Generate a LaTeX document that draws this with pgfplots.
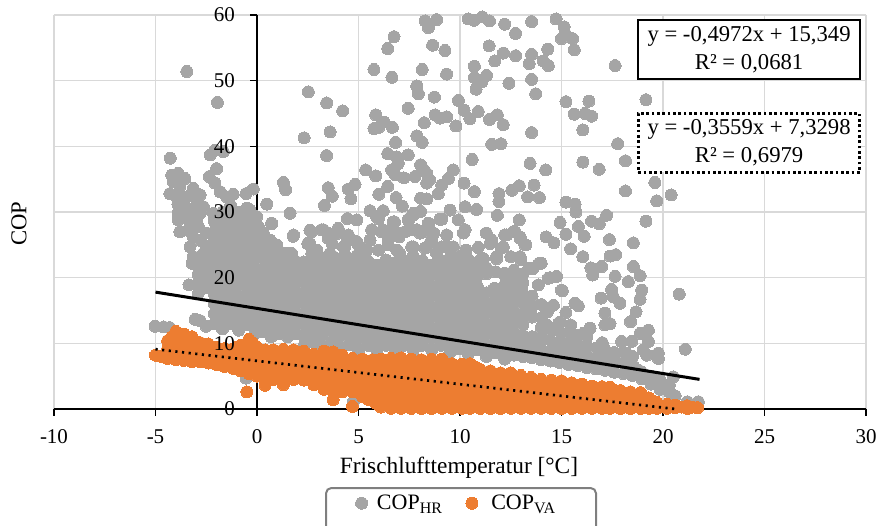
\documentclass[border=0pt]{standalone}
\usepackage{fontspec}
\setmainfont{Liberation Serif}
\usepackage{pgfplots}
\pgfplotsset{compat=1.18}
\definecolor{cgray}{HTML}{A5A5A5}
\definecolor{corange}{HTML}{ED7D31}
\definecolor{cgrid}{HTML}{D9D9D9}
\definecolor{cleg}{HTML}{7F7F7F}
\newcommand{\legsub}[1]{\raisebox{-3pt}{\fontsize{12}{12}\selectfont #1}}
\begin{document}
\begin{tikzpicture}
\useasboundingbox (-40.5pt,-87pt) rectangle (617.25pt,306.75pt);
\begin{axis}[
 scale only axis, width=609pt, height=295.5pt,
 xmin=-10, xmax=30, ymin=0, ymax=60,
 axis lines=middle, axis line style={-, black, line width=1.5pt},
 hide obscured x ticks=false, hide obscured y ticks=false,
 xtick={-10,-5,...,30}, ytick={0,10,...,60},
 xticklabel={\empty}, yticklabel={\empty},
 tick align=outside, major tick length=5pt,
 tick style={black, line width=1.1pt},
 grid=major, major grid style={cgrid, line width=1.2pt},
 clip=false,
 xlabel={Frischlufttemperatur [°C]},
 ylabel={COP},
 every axis x label/.style={at={(axis cs:9.95,-9)},anchor=center,font=\fontsize{17.5}{20}\selectfont},
 every axis y label/.style={at={(axis cs:-11.72,28.2)},anchor=center,rotate=90,font=\fontsize{17}{20}\selectfont},
 legend columns=2,
 legend style={at={(axis cs:3.4,-12.03)},anchor=north west,draw=none,fill=none,
  font=\fontsize{16.5}{19}\selectfont,inner xsep=22pt,inner ysep=3pt,
  /tikz/every even column/.append style={column sep=16pt},
  /tikz/every odd column/.append style={column sep=5pt}},
]
\draw[cleg,line width=1.5pt,rounded corners=4pt] (axis cs:3.4,-12.03) rectangle (axis cs:16.7,-19);
\addplot[only marks,color=cgray,mark=*,mark size=4.5pt,mark options={solid,draw=cgray,fill=cgray,line width=0pt}] coordinates {
(-3.46,51.4)(-1.95,46.7)(2.53,48.3)(3.43,46.6)(4.22,45.4)(2.32,41.3)(3.6,42.2)(3.43,38.6)(-4.27,38.2)(-2.3,38.7)(-2.07,39.4)(-1.66,39.2)(-1.99,36.6)(-2.35,35.4)
(1.3,34.5)(1.41,33.4)(0.48,31.2)(1.63,29.8)(-0.18,33.5)(-0.54,32.8)(-1.17,32.7)(1.79,26.3)(0.72,28.2)(3.51,33.7)(3.71,32.4)(3.32,31)(4.83,34.2)(4.5,33.5)(4.63,32)(4.45,29)(4.91,28.8)(4,27.4)(2.61,27.2)(3.27,27.3)
(6.75,56.7)(6.44,54.9)(5.76,51.7)(6.65,50.5)(8.14,51.7)(8.28,59.1)(8.44,58.1)(8.85,59.3)(8.65,55.4)(7.87,49.2)(7.95,48)(8.74,47.5)(7.45,45.8)(8.77,44.8)(8.24,43.6)(5.85,44.8)(6.26,43.7)(6.67,42.9)(5.76,42.7)(6,42.9)(7.87,41.6)(8.14,40.6)(6.83,40.6)(6.44,38.9)(6.88,38.4)(7.45,38.7)(5.35,36.4)(5.85,35.5)(6.63,36.4)(6.96,37.4)(8.06,37.2)(8.36,35.9)(7.78,35.4)(7.24,35.2)(6.44,33.9)(6,32.7)(6.85,32.2)(7.16,30.9)(8.06,32.1)(8.36,32)(8.36,34.4)(8.93,32.8)(6.8,35.7)(8.2,36.5)(8.5,34.9)
(5.57,30.2)(5.89,29.3)(6.22,30.2)(6.77,28.5)(7.45,28.8)(7.7,29.8)(8.06,30.1)(9.01,28.9)(8.44,27.8)(7.87,27.3)
(10.41,59.4)(10.7,59.2)(11.1,59.7)(11.45,59.1)(12.2,58.6)(12.74,57.2)(13.53,59)(14.73,59.4)(15.13,58.2)(15.17,57.2)(15.55,56.4)(15,56.4)(15.63,54.7)(17.64,52.3)(11.43,55.3)(9.26,54.6)(12.14,54.2)(11.72,53)(12.74,53.8)(13.53,54)(14.32,54.8)(13.41,52.6)(14.1,53)(14.35,52.3)(10.71,52.2)(9.34,51)(11.31,50.8)(10.71,50.5)(11.07,49.8)(12.41,49.6)(13.53,50.2)(10.79,48.7)(13.73,48)(9.92,47)(15.22,46.8)(16.35,46.9)(19.16,47.1)(10.2,45.5)(10.9,45.3)(10.49,44.2)(11.84,44.8)(11.45,44.1)(12.13,43.3)(15.63,44.9)(16.16,45)(16.48,44.6)(9.34,44.5)(9.01,44.3)(9.8,43.1)(13.53,42.1)(16.05,42.5)(11.56,40.3)(12.02,40.4)(17.77,40.4)(10.6,38)(13.45,37.4)(14.22,36.4)(16.05,37.6)(16.86,36.5)(18.15,37.8)(9.67,36.4)(9.43,35.1)(9.1,34.1)(10.2,34.4)(10.71,33.1)(12.55,33.3)(12.92,34)(13.65,34.1)(13.33,32.3)(13.91,32.2)(11.92,32.8)(11.92,31.6)(18.15,33.2)(19.6,34.5)(20.4,32.6)(19.69,31.7)(15.22,31.5)(15.67,31.2)(15.71,30)(10.82,30.4)(10.25,30.8)(9.51,30.3)(9.92,28.8)(9.1,28.9)(11.84,29.5)(12.92,28.8)(14.93,28.4)(17.22,29.5)(16.48,28.6)(16.86,28.2)(15.83,27.8)(19.16,28.6)(15.22,26.6)(16.12,26.3)(14.24,26.2)(14.63,25.3)(17.36,25.8)(18.54,25.3)(15.45,24.4)(16.05,23.2)(17.39,23.3)(17.67,23.5)(13.91,22.2)(18.54,21.7)(16.45,21.5)(16.98,21.7)(10.25,27.3)(10.17,26.8)(9.34,26.5)(11.56,25.7)(12.3,26.5)(12.71,27)(12.96,26)(13.25,25)(12.96,23.2)(11.15,22.9)(12.13,24.7)(10.3,24.2)(9.67,24.7)(11.8,23.2)
(20.8,17.5)(21.1,9.1)(15.04,18)(15.66,16.1)(15.83,15.7)(15.22,14.7)(14.6,15.8)(14.02,15.9)(14.76,20.2)(14.35,19.9)(13.86,18.9)(16.54,20.4)(17.64,20.2)(18.29,19.4)(18.87,20.3)(18.95,18.1)(18.87,16.7)(17.47,18.2)(16.95,16.9)(17.88,16.1)(17.55,17.1)(17.14,14.6)(17.14,12.8)(17.39,13)(18.67,14.8)(18.4,13.3)(18.87,11.5)(19.28,12)(19.28,10.3)(19.03,11.5)(17.01,10.1)(17.96,10.3)(18.46,10.3)(19.03,9)(19.2,8.2)(19.77,7.7)(19.77,8.5)(18.2,8.5)(20.51,4.9)(20.31,3.7)(20.6,2)(21.2,1.1)(21.74,1.1)(18.8,5.9)(15.45,12.8)(16.41,12.3)(16.07,11.5)(14.27,12.8)(15.75,11)
(-5.02,12.6)(-4.6,12.5)(-4.3,12.4)(-3.35,18.9)(-2.9,17.6)(-3.05,13.65)(-2.8,13.45)(-2.5,12.6)(-0.54,4.7)(4.75,1.1)
(-4.2,35.6)(-3.88,35.9)(-3.55,35.1)(-4.12,34.6)(-3.8,33.9)(-3.14,33.6)(-2.8,32.6)(-4.29,32.8)(-3.96,32.3)(-3.46,32.3)(-2.97,31.8)(-3.88,29.8)(-3.88,28.8)(-3.2,30.3)(-2.8,29.8)(-2.64,30.8)(-3.8,27)(-2.97,28.8)(-2.89,27.8)(-3.14,26.2)(-3.3,24.7)(-3.14,23.2)(-3.2,22.2)(-2.8,25.7)(-2.48,26.8)(-2.64,23.7)(-2.07,34.4)(-1.82,33.1)(-1.49,32.3)(-1.99,27.8)(-2.15,29.8)(-1.49,29.8)(-0.84,30)(-0.34,30.3)(-0.02,29.3)(-0.5,28.3)(-1.17,27.8)(0.07,27.8)(0.31,26.8)(0.64,25.7)(0.97,25)(1.46,23.7)(1.63,22.4)(1.2,23)(-3.9,31.2)(-3.5,30.7)(-3.6,29.2)(-3.3,28.4)(-3.4,27.2)
(2.61,25.2)(2.94,24.2)(3.51,26)(3.92,26.7)(3.76,23.2)(4.42,26.2)(4.25,24.7)(4.99,25)(4.42,23.2)(5.65,27.3)(6.14,27)(6.55,26.8)(5.57,25.7)(5.98,24.2)(6.47,25)(7,26.2)(7.29,27)(8.03,26.8)(8.6,25.7)(7.62,24.7)(8.28,24.5)(7.04,23.7)(8.85,23.7)(5.24,23.2)(9.3,24.8)(10.9,24.6)(12.5,23.2)(11.3,26.8)(13.6,21.4)
(2.69,27)(3.18,27.3)(3.5,26.8)(4,27.5)(4.5,26.5)(2.5,25.2)(3.7,25.2)(4.33,24.7)(4.9,25.5)(2.7,23.7)(3.1,23.2)(3.6,23.7)(4.25,23.2)(1.7,23.7)(1.3,23.5)(2.3,21.2)(1.8,26.5)(0.72,28.3)(5.4,24.2)(5.98,29)(6.7,28.5)(7.5,29)(7.7,29.5)(8.44,28.3)(9.05,28.9)(6.2,27.3)(6.47,25.7)(7.04,26.8)(7.7,27.3)(8.2,27)(8.7,26.8)(6.88,24.2)(7.7,24.7)(8.52,25.2)(9.1,24.7)(10,23.2)(6.88,22.4)
(11.48,25.2)(12.2,26.5)(12.63,27)(12.96,26.2)(13.2,25)(12.05,24.5)(13,22.7)(13.4,21.4)(12.2,20.7)(11,22.7)(11.8,22.9)(13,19.6)(13.04,18.1)(11.7,18.4)(12.1,17.6)(14,22.2)(14.43,20)(15,18.1)(13.4,16.1)(14.3,14.8)(13.45,14.8)
(-2.9,19)(-2.9,20.5)(-2.9,22)(-2.5,18.5)(-2.5,20.2)(-2.5,21.8)(-2.5,23.3)(-2.5,24.8)
(-2.1,13)(-2.1,14.5)(-2.1,16)(-2.1,17.5)(-2.1,19.2)(-2.1,20.8)(-2.1,22.4)(-2.1,24)(-2.1,25.5)(-2.1,27)(-2.1,28.6)
(-1.7,12.2)(-1.7,13.8)(-1.7,15.4)(-1.7,17)(-1.7,18.6)(-1.7,20.2)(-1.7,21.8)(-1.7,23.4)(-1.7,25)(-1.7,26.6)(-1.7,28.2)(-1.7,30)
(-1.3,13)(-1.3,14.6)(-1.3,16.2)(-1.3,18)(-1.3,19.6)(-1.3,21.2)(-1.3,22.8)(-1.3,24.4)(-1.3,26)(-1.3,27.6)(-1.3,29.2)(-1.3,31)
(-0.9,12)(-0.9,13.6)(-0.9,15.2)(-0.9,17)(-0.9,18.8)(-0.9,20.4)(-0.9,22)(-0.9,23.6)(-0.9,25.2)(-0.9,26.8)(-0.9,28.4)(-0.9,30)
(-0.5,12.8)(-0.5,14.4)(-0.5,16)(-0.5,17.6)(-0.5,19.2)(-0.5,20.8)(-0.5,22.4)(-0.5,24)(-0.5,25.6)(-0.5,27.2)(-0.5,28.8)(-0.5,30.6)
(-0.1,11.5)(-0.1,13.1)(-0.1,14.7)(-0.1,16.3)(-0.1,17.9)(-0.1,19.5)(-0.1,21.1)(-0.1,22.7)(-0.1,24.3)(-0.1,25.9)(-0.1,27.5)(-0.1,29)
(0.3,11.8)(0.3,13.4)(0.3,15)(0.3,16.6)(0.3,18.2)(0.3,19.8)(0.3,21.4)(0.3,23)(0.3,24.6)(0.3,26)
(0.7,11)(0.7,12.6)(0.7,14.2)(0.7,15.8)(0.7,17.4)(0.7,19)(0.7,20.6)(0.7,22.2)(0.7,23.8)(0.7,25.2)
(1.1,11.5)(1.1,13.1)(1.1,14.7)(1.1,16.3)(1.1,17.9)(1.1,19.5)(1.1,21.1)(1.1,22.7)(1.1,24)
(1.5,11)(1.5,12.6)(1.5,14.2)(1.5,15.8)(1.5,17.4)(1.5,19)(1.5,20.6)(1.5,22.2)
(1.9,11.5)(1.9,13.1)(1.9,14.7)(1.9,16.3)(1.9,17.9)(1.9,19.5)(1.9,21)(1.9,22.5)
(2.3,9.6)(2.3,11.2)(2.3,12.8)(2.3,14.4)(2.3,16)(2.3,17.6)(2.3,19.2)(2.3,20.8)(2.3,22.4)
(2.75,10.2)(2.75,11.9)(2.75,13.5)(2.75,15.1)(2.75,16.7)(2.75,18.3)(2.75,19.9)(2.75,21.5)(2.75,23)
(3.2,9.5)(3.2,11.1)(3.2,12.7)(3.2,14.3)(3.2,15.9)(3.2,17.5)(3.2,19.1)(3.2,20.7)(3.2,22.3)
(3.65,10)(3.65,11.8)(3.65,13.4)(3.65,15)(3.65,16.6)(3.65,18.2)(3.65,19.8)(3.65,21.4)(3.65,23.1)
(4.1,9.3)(4.1,11)(4.1,12.6)(4.1,14.2)(4.1,15.8)(4.1,17.4)(4.1,19)(4.1,20.6)(4.1,22.2)
(4.55,9.8)(4.55,11.6)(4.55,13.2)(4.55,14.8)(4.55,16.4)(4.55,18)(4.55,19.6)(4.55,21.2)(4.55,22.9)
(5,9)(5,10.7)(5,12.3)(5,13.9)(5,15.5)(5,17.1)(5,18.7)(5,20.3)(5,21.9)(5,23.6)
(5.45,9.7)(5.45,11.4)(5.45,13)(5.45,14.6)(5.45,16.2)(5.45,17.8)(5.45,19.4)(5.45,21)(5.45,22.6)
(5.9,9)(5.9,10.7)(5.9,12.3)(5.9,13.9)(5.9,15.5)(5.9,17.1)(5.9,18.7)(5.9,20.3)(5.9,21.9)
(6.35,9.7)(6.35,11.4)(6.35,13)(6.35,14.6)(6.35,16.2)(6.35,17.8)(6.35,19.4)(6.35,21)(6.35,22.7)
(6.8,9)(6.8,10.7)(6.8,12.3)(6.8,13.9)(6.8,15.5)(6.8,17.1)(6.8,18.7)(6.8,20.3)(6.8,21.9)
(7.25,9.7)(7.25,11.4)(7.25,13)(7.25,14.6)(7.25,16.2)(7.25,17.8)(7.25,19.4)(7.25,21)(7.25,22.6)
(7.7,9)(7.7,10.7)(7.7,12.3)(7.7,13.9)(7.7,15.5)(7.7,17.1)(7.7,18.7)(7.7,20.3)(7.7,21.9)(7.7,23.3)
(8.15,9.7)(8.15,11.4)(8.15,13)(8.15,14.6)(8.15,16.2)(8.15,17.8)(8.15,19.4)(8.15,21)(8.15,22.6)
(8.6,9)(8.6,10.7)(8.6,12.3)(8.6,13.9)(8.6,15.5)(8.6,17.1)(8.6,18.7)(8.6,20.3)(8.6,21.9)
(9.05,9.7)(9.05,11.4)(9.05,13)(9.05,14.6)(9.05,16.2)(9.05,17.8)(9.05,19.4)(9.05,21)(9.05,22.5)
(9.5,8.6)(9.5,10.3)(9.5,11.9)(9.5,13.5)(9.5,15.1)(9.5,16.7)(9.5,18.3)(9.5,19.9)(9.5,21.5)(9.5,23)
(9.95,9.2)(9.95,10.9)(9.95,12.5)(9.95,14.1)(9.95,15.7)(9.95,17.3)(9.95,18.9)(9.95,20.5)(9.95,22.1)
(10.4,8.4)(10.4,10.1)(10.4,11.7)(10.4,13.3)(10.4,14.9)(10.4,16.5)(10.4,18.1)(10.4,19.7)(10.4,21.3)(10.4,22.8)
(10.85,9)(10.85,10.7)(10.85,12.3)(10.85,13.9)(10.85,15.5)(10.85,17.1)(10.85,18.7)(10.85,20.3)(10.85,21.8)
(11.3,8)(11.3,9.7)(11.3,11.3)(11.3,12.9)(11.3,14.5)(11.3,16.1)(11.3,17.7)(11.3,20.6)(11.3,21.5)
(11.75,8.6)(11.75,10.3)(11.75,11.9)(11.75,13.5)(11.75,15.1)(11.75,16.7)(11.75,20.9)
(12.2,7.6)(12.2,9.3)(12.2,10.9)(12.2,12.5)(12.2,14.1)(12.2,15.7)(12.2,17.3)(12.2,18.9)(12.2,20.5)
(12.65,8.2)(12.65,9.9)(12.65,11.5)(12.65,13.1)(12.65,14.7)(12.65,16.3)(12.65,17.9)(12.65,19.5)(12.65,21.1)
(13.1,8)(13.1,9.6)(13.1,11.2)(13.1,12.8)(13.1,14.4)(13.1,16)(13.1,17.6)(13.1,19.2)(13.1,20.6)
(13.55,7.8)(13.55,9.4)(13.55,11)(13.55,14)(13.55,15.6)(13.55,17.2)
(14,7.5)(14,9.1)(14,10.7)(14,12.3)(14,13.9)
(14.45,7.3)(14.45,8.9)(14.45,10.5)(14.45,12.1)
(14.9,7.1)(14.9,8.7)(14.9,10.3)(14.9,11.9)(14.9,13.2)
(15.35,6.8)(15.35,8.4)(15.35,10)(15.35,11.6)
(15.8,6.6)(15.8,8.2)(15.8,9.8)(15.8,11.2)
(16.25,6.3)(16.25,7.9)(16.25,9.5)(16.25,11)
(16.7,6.1)(16.7,7.7)(16.7,9.3)
(17.15,5.9)(17.15,7.5)(17.15,9)
(17.6,5.6)(17.6,7.2)(17.6,8.6)
(18.05,5.4)(18.05,7)(18.05,8.6)
(18.5,5.1)(18.5,6.7)(18.5,8)
(18.95,4.6)(18.95,5.6)
(19.4,3.8)(19.4,5)
(19.85,3)(19.85,4.4)(20.3,2.6)
};
\addlegendentry{COP\legsub{HR}}
\addplot[only marks,color=corange,mark=*,mark size=4.5pt,mark options={solid,draw=corange,fill=corange,line width=0pt}] coordinates {
(-5,8.2)(-4.7,8)(-4.4,7.7)(-4.4,9.2)(-4.4,10.4)(-4,7.5)(-4,9)(-4,10.4)(-4,11.8)(-3.6,7.4)(-3.6,8.9)(-3.6,10.3)(-3.6,11.4)(-3.2,7.2)(-3.2,8.8)(-3.2,10.1)(-3.2,11)
(-2.8,7.2)(-2.8,8.6)(-2.8,10.1)(-2.4,7)(-2.4,8.5)(-2.4,9.9)(-2,6.8)(-2,8.1)(-2,9.4)(-1.6,6.5)(-1.6,7.9)(-1.6,9.2)(-1.2,6.2)(-1.2,7.6)(-1.2,9.1)(-0.8,5.8)(-0.8,7.2)(-0.8,8.7)(-0.8,9.7)
(-0.4,5.4)(-0.4,6.9)(-0.4,8.4)(-0.4,10.6)(-0.5,2.6)(0,5)(0,6.5)(0,8)(0,9.4)(0.4,3.6)(0.4,4.5)(0.4,6)(0.4,7.5)(0.4,9)(0.8,4.5)(0.8,5.9)(0.8,7.4)(0.8,9)(1.3,3.7)(1.3,4.5)(1.3,6)(1.3,7.5)(1.3,9.1)(1.8,4.5)(1.8,6)(1.8,7.5)(1.8,9)
(2.3,4.4)(2.3,5.9)(2.3,7.4)(2.3,8.8)(2.8,3.7)(2.8,5.2)(2.8,6.7)(2.8,8.3)(3.3,3)(3.3,4.5)(3.3,6)(3.3,7.5)(3.3,8.8)(3.75,1.4)(3.75,2.6)(3.75,4.1)(3.75,5.6)(3.75,7.1)(3.75,8.7)
(4.2,2.6)(4.2,4)(4.2,5.5)(4.2,7)(4.2,8.2)(4.7,0.4)(4.7,2.6)(4.7,4.1)(4.7,5.6)(4.7,7)(4.7,7.7)(5.2,1.9)(5.2,3.3)(5.2,4.8)(5.2,6.3)(5.2,7.6)(5.7,1.3)(5.7,2.8)(5.7,4.3)(5.7,5.8)(5.7,7.5)
(6.1,0.3)(6.1,1.8)(6.1,3.3)(6.1,4.8)(6.1,6.3)(6.1,7.6)(6.6,0.1)(6.6,1.6)(6.6,3.1)(6.6,4.6)(6.6,6.1)(6.6,7.7)(7.1,0.1)(7.1,1.6)(7.1,3.1)(7.1,4.6)(7.1,6.1)(7.1,7.8)
(7.6,0.1)(7.6,1.6)(7.6,3.1)(7.6,4.6)(7.6,6.1)(7.6,7.6)(8.1,0.1)(8.1,1.6)(8.1,3.1)(8.1,4.6)(8.1,6.1)(8.1,7.5)(8.6,0.1)(8.6,1.6)(8.6,3.1)(8.6,4.6)(8.6,6.1)(8.6,7.6)(9.1,0.1)(9.1,1.6)(9.1,3.1)(9.1,4.6)(9.1,6.1)(9.1,7.6)
(9.6,0.1)(9.6,1.6)(9.6,3.1)(9.6,4.6)(9.6,6.1)(9.6,6.9)(10.1,0.1)(10.1,1.5)(10.1,3)(10.1,4.5)(10.1,6)(10.1,6.8)(10.5,0.1)(10.5,1.5)(10.5,3)(10.5,4.5)(10.5,6)(10.5,6.9)
(11,0.1)(11,1.5)(11,3)(11,4.5)(11,6)(11.5,0.1)(11.5,1.5)(11.5,3)(11.5,4.4)(11.5,5.8)(12,0.1)(12,1.4)(12,2.8)(12,4.2)(12,5.5)(12.5,0.1)(12.5,1.4)(12.5,2.8)(12.5,4.2)(12.5,5.5)
(13,0.1)(13,1.4)(13,2.8)(13,4.1)(13,5.1)(13.5,0.1)(13.5,1.4)(13.5,2.7)(13.5,4)(13.5,4.8)(14,0.1)(14,1.4)(14,2.7)(14,4)(14,4.5)(14.5,0.1)(14.5,1.4)(14.5,2.7)(14.5,4.4)(15,0.1)(15,1.4)(15,2.7)(15,4.3)
(15.5,0.1)(15.5,1.4)(15.5,2.7)(15.5,4)(16,0.1)(16,1.3)(16,2.6)(16,3.8)(16.5,0.1)(16.5,1.3)(16.5,2.5)(16.5,3.5)(17,0.1)(17,1.2)(17,2.4)(17,3.4)(17.4,0.1)(17.4,1.2)(17.4,2.3)(17.4,3.3)
(17.9,0.1)(17.9,1.2)(17.9,2.8)(18.4,0.1)(18.4,1.2)(18.4,2.6)(18.9,0.1)(18.9,1.2)(18.9,2.5)(19.3,0.1)(19.3,1.7)(19.7,0.1)(19.7,1)(20.2,0.1)(20.2,0.7)(20.6,0.2)(20.6,0.6)(21.2,0.1)(21.2,0.5)(21.7,0.2)
(-4.2,8.4)(-4.2,9.7)(-4.2,11)(-3.8,8.2)(-3.8,9.6)(-3.8,11)(-3.4,8.1)(-3.4,9.5)(-3.4,10.7)(-3,8)(-3,9.4)(-2.6,7.8)(-2.6,9.2)(-2.2,7.7)(-2.2,9)(-1.8,7.4)(-1.8,8.7)(-1.4,7)(-1.4,8.4)(-1,6.8)(-1,8.2)(-1,9.4)
(-0.6,6.2)(-0.6,7.6)(-0.6,9.2)(-0.2,5.8)(-0.2,7.2)(-0.2,8.7)(-0.2,10)(0.2,5.3)(0.2,6.8)(0.2,8.2)(0.6,5.2)(0.6,6.7)(0.6,8.2)(1.05,5.2)(1.05,6.7)(1.05,8.2)(1.55,5.2)(1.55,6.7)(1.55,8.2)(2.05,5.2)(2.05,6.7)(2.05,8.2)
(2.55,4.4)(2.55,5.2)(2.55,6.6)(2.55,8.1)(3.05,3.8)(3.05,5.2)(3.05,6.7)(3.05,8)(3.55,3.3)(3.55,4.8)(3.55,6.3)(3.55,7.8)(3.95,3.3)(3.95,4.8)(3.95,6.2)(3.95,7.7)(4.45,3.3)(4.45,4.8)(4.45,6.2)(4.45,7.4)
(4.95,2.6)(4.95,4)(4.95,5.5)(4.95,7)(5.45,1.5)(5.45,3)(5.45,4.5)(5.45,6)(5.45,7.2)(5.9,0.8)(5.9,2.3)(5.9,3.8)(5.9,5.3)(5.9,6.8)
(6.35,0.85)(6.35,2.35)(6.35,3.85)(6.35,5.35)(6.35,6.85)(6.85,0.85)(6.85,2.35)(6.85,3.85)(6.85,5.35)(6.85,6.85)(7.35,0.85)(7.35,2.35)(7.35,3.85)(7.35,5.35)(7.35,6.85)(7.85,0.85)(7.85,2.35)(7.85,3.85)(7.85,5.35)(7.85,6.85)
(8.35,0.85)(8.35,2.35)(8.35,3.85)(8.35,5.35)(8.35,6.85)(8.85,0.85)(8.85,2.35)(8.85,3.85)(8.85,5.35)(8.85,6.85)(9.35,0.85)(9.35,2.35)(9.35,3.85)(9.35,5.35)(9.35,6.85)
(9.85,0.85)(9.85,2.25)(9.85,3.75)(9.85,5.25)(9.85,6.4)(10.3,0.85)(10.3,2.25)(10.3,3.75)(10.3,5.25)(10.3,6.4)(10.75,0.85)(10.75,2.25)(10.75,3.75)(10.75,5.25)(10.75,6.4)
(11.25,0.8)(11.25,2.25)(11.25,3.7)(11.25,5.1)(11.75,0.8)(11.75,2.25)(11.75,3.7)(11.75,5.1)(12.25,0.75)(12.25,2.1)(12.25,3.5)(12.25,4.8)(12.75,0.75)(12.75,2.1)(12.75,3.5)(12.75,4.8)
(13.25,0.75)(13.25,2.05)(13.25,3.4)(13.25,4.3)(13.75,0.75)(13.75,2.05)(13.75,3.4)(13.75,4.3)(14.25,0.75)(14.25,2.05)(14.25,3.5)(14.75,0.75)(14.75,2.05)(14.75,3.5)(15.25,0.75)(15.25,2.05)(15.25,3.3)(15.75,0.75)(15.75,2.05)(15.75,3.3)
(16.25,0.7)(16.25,1.9)(16.25,3)(16.75,0.7)(16.75,1.9)(16.75,3)(17.2,0.65)(17.2,1.75)(17.2,2.8)(17.65,0.65)(17.65,1.75)(17.65,2.8)(18.15,0.65)(18.15,1.9)(18.65,0.65)(18.65,1.9)(19.1,0.6)(19.1,1.2)(19.5,0.6)(19.5,1.2)(19.95,0.4)(20.4,0.4)(20.9,0.3)(21.45,0.3)
};
\addlegendentry{\hspace{3pt}COP\legsub{VA}}
\end{axis}
\begin{axis}[
 scale only axis, width=609pt, height=295.5pt,
 xmin=-10, xmax=30, ymin=0, ymax=60,
 axis lines=middle, axis line style={draw=none},
 hide obscured x ticks=false, hide obscured y ticks=false,
 xtick={-10,-5,...,30}, ytick={0,10,...,60},
 tick align=outside, major tick length=5pt,
 tick style={draw=none},
 clip=false,
 /pgf/number format/assume math mode=true,
 tick label style={font=\fontsize{15.75}{18}\selectfont},
 xticklabel style={yshift=-6.75pt},
 yticklabel style={xshift=-8pt},
]
\addplot[black,line width=2.25pt] coordinates {(-5,17.8)(21.8,4.51)};
\addplot[black,line width=2pt,dash pattern=on 1.6pt off 3.4pt] coordinates {(-5,9.11)(20.6,0)};
\node[draw=black,line width=1.5pt,fill=white,minimum width=166pt,minimum height=44pt,inner sep=0pt,align=center,font=\fontsize{17}{21}\selectfont] at (axis cs:24.24,54.75) {y = -0,4972x + 15,349\\R² = 0,0681};
\node[draw=black,line width=2pt,dash pattern=on 2pt off 2pt,fill=white,minimum width=166pt,minimum height=44pt,inner sep=0pt,align=center,font=\fontsize{17}{21}\selectfont] at (axis cs:24.24,40.5) {y = -0,3559x + 7,3298\\R² = 0,6979};
\end{axis}
\end{tikzpicture}
\end{document}
